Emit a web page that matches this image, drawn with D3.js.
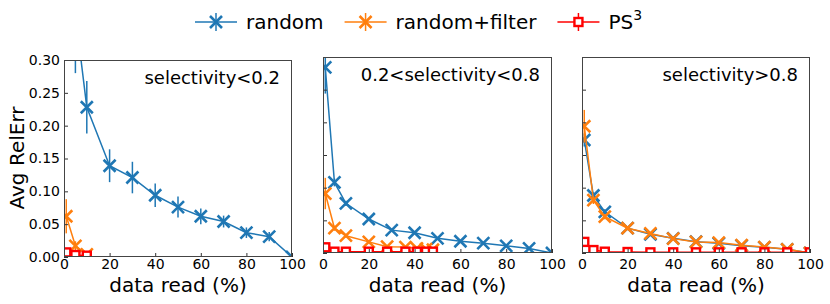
<!DOCTYPE html>
<html>
<head>
<meta charset="utf-8">
<script src="https://cdn.jsdelivr.net/npm/d3@7"></script>
<style>
  body { margin: 0; background: #fff; }
  svg { display: block; font-family: "DejaVu Sans", sans-serif; }
</style>
</head>
<body>
<div id="chart"></div>
<script>
// data read (%) for the plain random sampler
const xRead = [1, 5, 10, 20, 30, 40, 50, 60, 70, 80, 90, 100];

// selectivity < 0.2
const lowRandom    = [0.75, 0.37, 0.228, 0.139, 0.121, 0.094, 0.076, 0.062, 0.054, 0.037, 0.031, 0.0];
const lowRandomErr = [0.10, 0.09, 0.040, 0.025, 0.024, 0.018, 0.016, 0.012, 0.009, 0.008, 0.007, 0.0];
const lowFilterX   = [1, 5, 10];
const lowFilter    = [0.062, 0.017, 0.004];
const lowFilterErr = [0.026, 0.007, 0.002];
const lowPs3X      = [1, 5, 10];
const lowPs3       = [0.007, 0.003, 0.002];

// 0.2 < selectivity < 0.8
const midRandom    = [0.284, 0.108, 0.076, 0.052, 0.035, 0.031, 0.0225, 0.018, 0.015, 0.011, 0.007, 0.0];
const midRandomErr = [0.040, 0.006, 0.004, 0.003, 0.002, 0.002, 0.002, 0.001, 0.001, 0.001, 0.001, 0.0];
const midFilterX   = [1, 5, 10, 20, 28, 36, 41, 45, 48];
const midFilter    = [0.091, 0.038, 0.0265, 0.017, 0.0097, 0.009, 0.007, 0.006, 0.005];
const midFilterErr = [0.024, 0.004, 0.003, 0.002, 0.001, 0.001, 0.001, 0.001, 0.001];
const midPs3X      = [1, 5, 10, 20, 28, 36, 41, 45, 48];
const midPs3       = [0.0087, 0.002, 0.002, 0.002, 0.002, 0.002, 0.002, 0.002, 0.002];

// selectivity > 0.8
const highRandom    = [0.173, 0.088, 0.063, 0.038, 0.0286, 0.0225, 0.0173, 0.0148, 0.0112, 0.0087, 0.0056, 0.0];
const highRandomErr = [0.010, 0.005, 0.004, 0.003, 0.002, 0.002, 0.001, 0.001, 0.001, 0.001, 0.001, 0.0];
const highFilter    = [0.194, 0.081, 0.0556, 0.038, 0.030, 0.022, 0.017, 0.016, 0.012, 0.009, 0.0056, 0.0];
const highFilterErr = [0.025, 0.006, 0.004, 0.003, 0.002, 0.002, 0.001, 0.001, 0.001, 0.001, 0.001, 0.0];
const highPs3       = [0.017, 0.0045, 0.002, 0.0015, 0.001, 0.001, 0.001, 0.001, 0.001, 0.001, 0.001, 0.001];

const xTicks = [0, 20, 40, 60, 80, 100];
const yTicks = [0, 0.05, 0.10, 0.15, 0.20, 0.25, 0.30];
const panelTitles = ['selectivity<0.2', '0.2<selectivity<0.8', 'selectivity>0.8'];
const seriesNames = ['random', 'random+filter', 'PS'];

const BLUE = '#1f77b4', ORANGE = '#ff7f0e', RED = '#ff0000';

const width = 830, height = 304;
const svg = d3.select('#chart').append('svg')
  .attr('width', width)
  .attr('height', height);

// plot boxes of the three axes
const boxes = [
  { x0: 64,  x1: 292, y0: 60, y1: 257, pad: 2 },
  { x0: 323, x1: 552, y0: 57, y1: 253, pad: 6 },
  { x0: 582, x1: 810, y0: 57, y1: 253, pad: 6 }
];

const zip = (xs, ys, es) => xs.map((x, i) => ({ x: x, y: ys[i], e: es ? es[i] : 0 }));

const panels = [
  [
    { color: BLUE,   marker: 'x', pts: zip(xRead, lowRandom, lowRandomErr) },
    { color: ORANGE, marker: 'x', pts: zip(lowFilterX, lowFilter, lowFilterErr) },
    { color: RED,    marker: 's', pts: zip(lowPs3X, lowPs3) }
  ],
  [
    { color: BLUE,   marker: 'x', pts: zip(xRead, midRandom, midRandomErr) },
    { color: ORANGE, marker: 'x', pts: zip(midFilterX, midFilter, midFilterErr) },
    { color: RED,    marker: 's', pts: zip(midPs3X, midPs3) }
  ],
  [
    { color: BLUE,   marker: 'x', pts: zip(xRead, highRandom, highRandomErr) },
    { color: ORANGE, marker: 'x', pts: zip(xRead, highFilter, highFilterErr) },
    { color: RED,    marker: 's', pts: zip(xRead, highPs3) }
  ]
];

function drawMarker(sel, type, color) {
  if (type === 'x') {
    sel.append('path')
      .attr('d', 'M-6,-6L6,6M-6,6L6,-6')
      .attr('stroke', color)
      .attr('stroke-width', 2.6)
      .attr('fill', 'none');
  } else {
    sel.append('rect')
      .attr('x', -4).attr('y', -4)
      .attr('width', 8).attr('height', 8)
      .attr('fill', '#fff')
      .attr('stroke', color)
      .attr('stroke-width', 2.4);
  }
}

panels.forEach((series, p) => {
  const b = boxes[p];
  const x = d3.scaleLinear().domain([0, 100]).range([b.x0, b.x1]);
  const y = d3.scaleLinear().domain([0, 0.30]).range([b.y1, b.y0]);

  const clipId = 'clip' + p;
  svg.append('clipPath').attr('id', clipId)
    .append('rect')
    .attr('x', b.x0).attr('y', b.y0)
    .attr('width', b.x1 - b.x0).attr('height', b.y1 - b.y0);

  const plot = svg.append('g').attr('clip-path', `url(#${clipId})`);

  const line = d3.line().x(d => x(d.x)).y(d => y(d.y));

  series.forEach(s => {
    const g = plot.append('g');
    // error bars
    g.selectAll('.err')
      .data(s.pts.filter(d => d.e > 0))
      .enter().append('line')
      .attr('x1', d => x(d.x)).attr('x2', d => x(d.x))
      .attr('y1', d => y(d.y - d.e)).attr('y2', d => y(d.y + d.e))
      .attr('stroke', s.color)
      .attr('stroke-width', 1.5);

    g.append('path')
      .datum(s.pts)
      .attr('d', line)
      .attr('fill', 'none')
      .attr('stroke', s.color)
      .attr('stroke-width', 1.5);

    g.selectAll('.mk')
      .data(s.pts)
      .enter().append('g')
      .attr('transform', d => `translate(${x(d.x)},${y(d.y)})`)
      .each(function () { drawMarker(d3.select(this), s.marker, s.color); });
  });

  // axes, ticks pointing inwards
  const xAxis = svg.append('g')
    .attr('transform', `translate(0,${b.y1})`)
    .call(d3.axisBottom(x).tickValues(xTicks).tickSizeInner(-4).tickSizeOuter(0).tickPadding(b.pad));
  xAxis.select('.domain').remove();
  xAxis.selectAll('text').attr('font-size', 14).attr('fill', '#000').attr('font-family', '"DejaVu Sans", sans-serif');
  xAxis.selectAll('line').attr('stroke', '#333');

  const yAxis = svg.append('g')
    .attr('transform', `translate(${b.x0},0)`)
    .call(d3.axisLeft(y).tickValues(yTicks).tickSizeInner(-4).tickSizeOuter(0).tickPadding(4)
      .tickFormat(p === 0 ? d3.format('.2f') : ''));
  yAxis.select('.domain').remove();
  yAxis.selectAll('text').attr('font-size', 14).attr('fill', '#000').attr('font-family', '"DejaVu Sans", sans-serif');
  yAxis.selectAll('line').attr('stroke', '#333');

  svg.append('rect')
    .attr('x', b.x0 + 0.5).attr('y', b.y0 + 0.5)
    .attr('width', b.x1 - b.x0 - 1).attr('height', b.y1 - b.y0 - 1)
    .attr('fill', 'none')
    .attr('stroke', '#444')
    .attr('stroke-width', 1);

  svg.append('text')
    .attr('x', b.x1 - 12)
    .attr('y', b.y0 + 24)
    .attr('text-anchor', 'end')
    .attr('font-size', 18)
    .text(panelTitles[p]);

  svg.append('text')
    .attr('x', (b.x0 + b.x1) / 2)
    .attr('y', 292)
    .attr('text-anchor', 'middle')
    .attr('font-size', 20)
    .text('data read (%)');
});

svg.append('text')
  .attr('transform', 'translate(24,158) rotate(-90)')
  .attr('text-anchor', 'middle')
  .attr('font-size', 20)
  .text('Avg RelErr');

// legend
const legend = svg.append('g');
const legendColors = [BLUE, ORANGE, RED];
const legendMarks = ['x', 'x', 's'];
let lx = 195;
const ly = 22;
seriesNames.forEach((name, i) => {
  const g = legend.append('g');
  g.append('line')
    .attr('x1', lx).attr('x2', lx + 42)
    .attr('y1', ly).attr('y2', ly)
    .attr('stroke', legendColors[i]).attr('stroke-width', 1.5);
  g.append('line')
    .attr('x1', lx + 21).attr('x2', lx + 21)
    .attr('y1', ly - 9).attr('y2', ly + 9)
    .attr('stroke', legendColors[i]).attr('stroke-width', 1.5);
  const m = g.append('g').attr('transform', `translate(${lx + 21},${ly})`);
  drawMarker(m, legendMarks[i], legendColors[i]);
  const t = g.append('text')
    .attr('x', lx + 51)
    .attr('y', ly + 7)
    .attr('font-size', 20)
    .text(name);
  if (i === 2) {
    t.append('tspan').attr('font-size', 14).attr('dy', -9).text('3');
  }
  lx += 51 + t.node().getComputedTextLength() + 21;
});
</script>
</body>
</html>
